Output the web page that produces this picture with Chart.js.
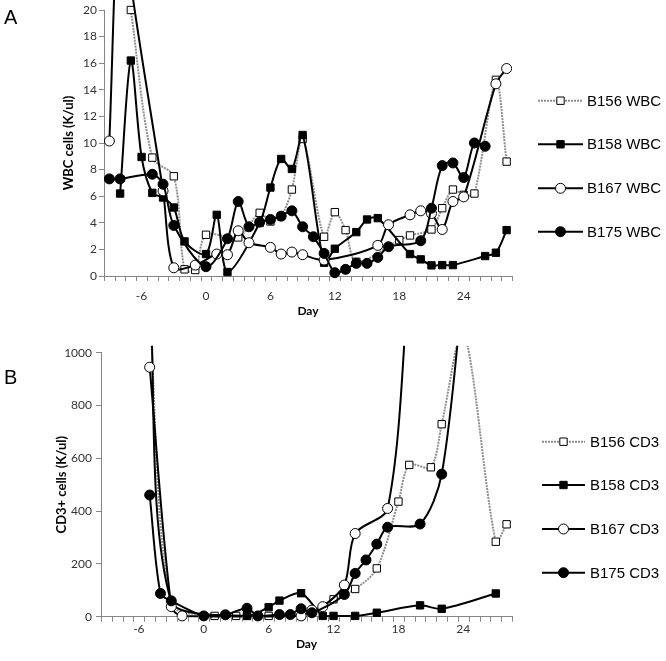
<!DOCTYPE html>
<html>
<head>
<meta charset="utf-8">
<script src="https://cdn.jsdelivr.net/npm/chart.js@4.4.0/dist/chart.umd.min.js"></script>
<style>
  body { margin: 0; background: #fff; width: 666px; height: 661px; overflow: hidden; }
  .panel { position: absolute; left: 0; width: 666px; }
  #boxA { top: 0; height: 330px; }
  #boxB { top: 330px; height: 331px; }
</style>
</head>
<body>
<div class="panel" id="boxA"><canvas id="chartA"></canvas></div>
<div class="panel" id="boxB"><canvas id="chartB"></canvas></div>
<script>
// eixo x: dias, rótulos a cada 6
const dayTicks = [-6, 0, 6, 12, 18, 24];
const animals = ['B156', 'B158', 'B167', 'B175'];

// WBC (K/ul) -> [dia, valor]
const wbcB156 = [[-7, 20.0], [-5, 8.9], [-3, 7.5], [-2, 0.5], [-1, 0.45], [0, 3.1], [3, 2.9], [5, 4.75],
  [6, 4.1], [7, 4.5], [8, 6.5], [9, 10.3], [11, 2.95], [12, 4.8], [13, 3.45], [14, 1.07], [18, 2.7],
  [19, 3.05], [21, 3.5], [22, 5.1], [23, 6.5], [24, 6.1], [25, 6.2], [27, 14.75], [28, 8.6]];
const wbcB158 = [[-8, 6.2], [-7, 16.2], [-6, 8.95], [-5, 6.25], [-4, 5.9], [-3, 5.15], [-2, 2.6], [0, 1.65],
  [1, 4.6], [2, 0.3], [5, 4.0], [6, 6.65], [7, 8.8], [8, 8.05], [9, 10.6], [11, 1.0], [12, 2.05], [14, 3.3],
  [15, 4.25], [16, 4.35], [19, 1.65], [20, 1.25], [21, 0.8], [22, 0.82], [23, 0.82], [26, 1.5], [27, 1.75], [28, 3.45]];
const wbcB167 = [[-9, 10.15], [-8, 30], [-7, 22], [-4, 6.4], [-3, 0.62], [-1, 0.82], [1, 1.65], [2, 1.6],
  [3, 3.4], [4, 2.5], [6, 2.15], [7, 1.65], [8, 1.8], [9, 1.6], [11, 1.2], [16, 2.3], [17, 3.85], [19, 4.6],
  [20, 4.9], [21, 4.7], [22, 3.5], [23, 5.6], [24, 5.95], [27, 14.45], [28, 15.6]];
const wbcB175 = [[-9, 7.3], [-8, 7.3], [-5, 7.65], [-4, 6.9], [-3, 3.8], [0, 0.7], [2, 2.8], [3, 5.6], [4, 3.7],
  [5, 4.05], [6, 4.25], [7, 4.5], [8, 4.9], [9, 3.7], [10, 2.95], [11, 1.7], [12, 0.25], [13, 0.5], [14, 0.95],
  [15, 0.95], [16, 1.4], [17, 2.2], [20, 2.65], [21, 5.1], [22, 8.3], [23, 8.5], [24, 7.4], [25, 10.0], [26, 9.75]];

// CD3+ (K/ul) -> [dia, valor]
const cd3B156 = [[-5, 1150], [-3, 50], [1, 3], [3, 3], [4, 3], [6, 3], [9, 3], [12, 66], [14, 105], [16, 183],
  [18, 436], [19, 575], [21, 566], [22, 729], [24, 1080], [27, 284], [28, 350]];
const cd3B158 = [[-5, 1250], [-3, 55], [4, 3], [6, 36], [7, 61], [9, 89], [11, 3], [12, 3], [14, 3], [16, 15],
  [20, 43], [22, 30], [27, 88]];
const cd3B167 = [[-5, 945], [-3, 38], [-2, 3], [9, 3], [10, 25], [11, 38], [13, 120], [14, 315], [17, 410], [19, 1300]];
const cd3B175 = [[-5, 461], [-4, 88], [-3, 60], [0, 3], [2, 7], [4, 32], [5, 3], [7, 8], [8, 8], [9, 30], [10, 15],
  [13, 84], [14, 164], [15, 215], [16, 275], [17, 339], [20, 351], [22, 540], [24, 1250]];

// estilo de cada animal (linha cinza pontilhada, quadrado, círculo aberto/cheio)
const estilos = [
  { line: '#8e8e8e', dash: [2, 1], shape: 'rect', fill: '#fff', r: 5.2 },
  { line: '#000', dash: [], shape: 'rect', fill: '#000', r: 5.2 },
  { line: '#000', dash: [], shape: 'circle', fill: '#fff', r: 5 },
  { line: '#000', dash: [], shape: 'circle', fill: '#000', r: 5 }
];

function desenharMarcador(ctx, e, x, y) {
  ctx.save();
  ctx.setLineDash([]);
  ctx.fillStyle = e.fill;
  ctx.strokeStyle = '#000';
  ctx.lineWidth = 1;
  ctx.beginPath();
  if (e.shape === 'rect') {
    const s = e.r * Math.SQRT1_2;
    ctx.rect(x - s, y - s, 2 * s, 2 * s);
  } else {
    ctx.arc(x, y, e.r, 0, Math.PI * 2);
  }
  ctx.fill();
  ctx.stroke();
  ctx.restore();
}

// legenda lateral + letra do painel + tracinhos do eixo x
const extras = {
  id: 'extras',
  afterDraw(chart, args, opts) {
    const ctx = chart.ctx;
    const x = chart.scales.x;
    const area = chart.chartArea;
    ctx.save();
    ctx.strokeStyle = '#868686';
    ctx.lineWidth = 1;
    for (let d = -9.5; d <= 28.5; d += 1) {
      const px = Math.round(x.getPixelForValue(d)) + 0.5;
      ctx.beginPath();
      ctx.moveTo(px, area.bottom);
      ctx.lineTo(px, area.bottom + 5);
      ctx.stroke();
    }
    ctx.fillStyle = '#000';
    ctx.font = '20px "Liberation Sans", Arial';
    ctx.textBaseline = 'middle';
    ctx.fillText(opts.letter, 4, opts.letterY);
    ctx.font = '15px "Liberation Sans", Arial';
    opts.rows.forEach((y, i) => {
      const e = estilos[i];
      ctx.save();
      ctx.strokeStyle = e.line;
      ctx.lineWidth = 2;
      ctx.setLineDash(e.dash);
      ctx.beginPath();
      ctx.moveTo(opts.x1, y);
      ctx.lineTo(opts.x2, y);
      ctx.stroke();
      ctx.restore();
      desenharMarcador(ctx, e, (opts.x1 + opts.x2) / 2, y);
      ctx.fillStyle = '#000';
      ctx.fillText(animals[i] + ' ' + opts.suffix, opts.tx, y + 1);
    });
    ctx.restore();
  }
};

function criarPainel(id, series, cfg) {
  const datasets = series.map((dados, i) => {
    const e = estilos[i];
    return {
      label: animals[i] + ' ' + cfg.suffix,
      data: dados.map(p => ({ x: p[0], y: p[1] })),
      borderColor: e.line,
      borderWidth: 2,
      borderDash: e.dash,
      tension: 0.3,
      pointStyle: e.shape,
      pointRadius: e.r,
      pointBackgroundColor: e.fill,
      pointBorderColor: '#000',
      pointBorderWidth: 1,
      order: 4 - i,
      clip: { left: 0, right: 0, top: cfg.clipTop, bottom: 8 }
    };
  });

  return new Chart(document.getElementById(id), {
    type: 'line',
    data: { datasets },
    options: {
      responsive: true,
      maintainAspectRatio: false,
      animation: false,
      events: [],
      layout: { padding: { left: 0, right: 154, top: cfg.top, bottom: 0 } },
      plugins: {
        legend: { display: false },
        tooltip: { enabled: false },
        extras: cfg.legend
      },
      scales: {
        x: {
          type: 'linear',
          min: -9.5,
          max: 28.5,
          afterBuildTicks: axis => { axis.ticks = dayTicks.map(v => ({ value: v })); },
          afterFit: axis => { axis.height = cfg.xHeight; },
          grid: { drawOnChartArea: false, drawTicks: false },
          border: { color: '#868686', width: 1 },
          ticks: { padding: cfg.xPad, color: '#333', font: { family: 'Lato', size: 12 } },
          title: {
            display: true, text: 'Day', color: '#000',
            font: { family: 'Lato', size: 12, weight: 'bold' },
            padding: { top: 0, bottom: cfg.dayPad }
          }
        },
        y: {
          min: 0,
          max: cfg.yMax,
          afterFit: axis => { axis.width = cfg.yWidth; },
          grid: { drawOnChartArea: false, drawTicks: true, tickLength: 5, color: '#868686' },
          border: { color: '#868686', width: 1 },
          ticks: {
            stepSize: cfg.yStep, padding: cfg.yPad, color: '#333',
            font: { family: 'Lato', size: 12 },
            callback: v => String(v)
          },
          title: {
            display: true, text: cfg.yTitle, color: '#000',
            font: { family: 'Lato', size: 13, weight: 'bold' },
            padding: { top: cfg.titlePad, bottom: 0 }
          }
        }
      }
    },
    plugins: [extras]
  });
}

criarPainel('chartA', [wbcB156, wbcB158, wbcB167, wbcB175], {
  suffix: 'WBC', yMax: 20, yStep: 2, yTitle: 'WBC cells (K/ul)',
  top: 10, clipTop: 10, yWidth: 104, yPad: 2, xHeight: 54, xPad: 13, dayPad: 12, titlePad: 61,
  legend: { letter: 'A', letterY: 18, rows: [100.7, 144.3, 188.3, 231.7], x1: 538, x2: 583, tx: 587, suffix: 'WBC' }
});

criarPainel('chartB', [cd3B156, cd3B158, cd3B167, cd3B175], {
  suffix: 'CD3', yMax: 1000, yStep: 200, yTitle: 'CD3+ cells (K/ul)',
  top: 22.7, clipTop: 7, yWidth: 101, yPad: 4, xHeight: 44.3, xPad: 5, dayPad: 10, titlePad: 54,
  legend: { letter: 'B', letterY: 48, rows: [111.7, 155, 199, 242.7], x1: 542, x2: 585, tx: 590, suffix: 'CD3' }
});
</script>
</body>
</html>
